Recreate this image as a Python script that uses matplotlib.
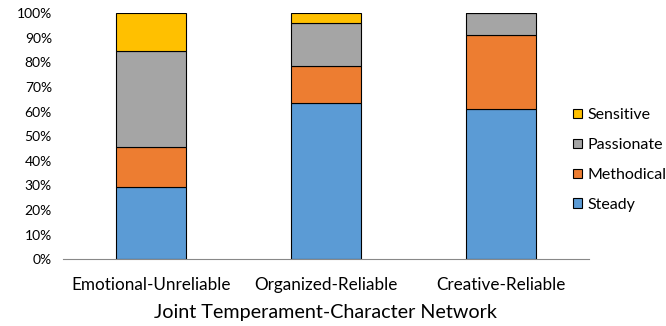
import matplotlib.pyplot as plt
import numpy as np
from matplotlib.ticker import PercentFormatter

plt.rcParams['font.family'] = ['Lato', 'DejaVu Sans']

categories = ['Emotional-Unreliable', 'Organized-Reliable', 'Creative-Reliable']
series = ['Steady', 'Methodical', 'Passionate', 'Sensitive']
steady = [29.4, 63.3, 61.2]
methodical = [16.0, 15.2, 29.8]
passionate = [39.0, 17.5, 9.0]
sensitive = [15.6, 4.0, 0.0]
colors = ['#5b9bd5', '#ed7d31', '#a5a5a5', '#ffc000']

fig = plt.figure(figsize=(6.66, 3.26), dpi=100)
ax = fig.add_axes([0.0946, 0.2046, 0.7894, 0.7554])

x = np.arange(len(categories))
bottom = np.zeros(len(categories))
handles = []
for name, vals, col in zip(series, [steady, methodical, passionate, sensitive], colors):
    b = ax.bar(x, vals, 0.4, bottom=bottom, color=col, edgecolor='black', linewidth=0.8, label=name)
    handles.append(b)
    bottom += np.array(vals)

ax.set_xlim(-0.5, 2.5)
ax.set_ylim(0, 100)
ax.set_yticks(np.arange(0, 101, 10))
ax.yaxis.set_major_formatter(PercentFormatter(decimals=0))
ax.set_xticks(x)
ax.set_xticklabels(categories, fontsize=12.3)
ax.tick_params(axis='y', labelsize=10, length=0, pad=8)
ax.tick_params(axis='x', length=0, pad=13)
ax.set_xlabel('Joint Temperament-Character Network', fontsize=14.2, labelpad=8)
for s in ['top', 'right', 'left']:
    ax.spines[s].set_visible(False)
ax.spines['bottom'].set_color('#888888')

fig.legend(handles[::-1], series[::-1], loc='center left', bbox_to_anchor=(573 / 666, 1 - 160 / 326),
           frameon=False, fontsize=11.5, handlelength=0.55, handleheight=0.55,
           handletextpad=0.35, labelspacing=1.0, borderpad=0, borderaxespad=0)

fig.savefig('out.png', dpi=100)
